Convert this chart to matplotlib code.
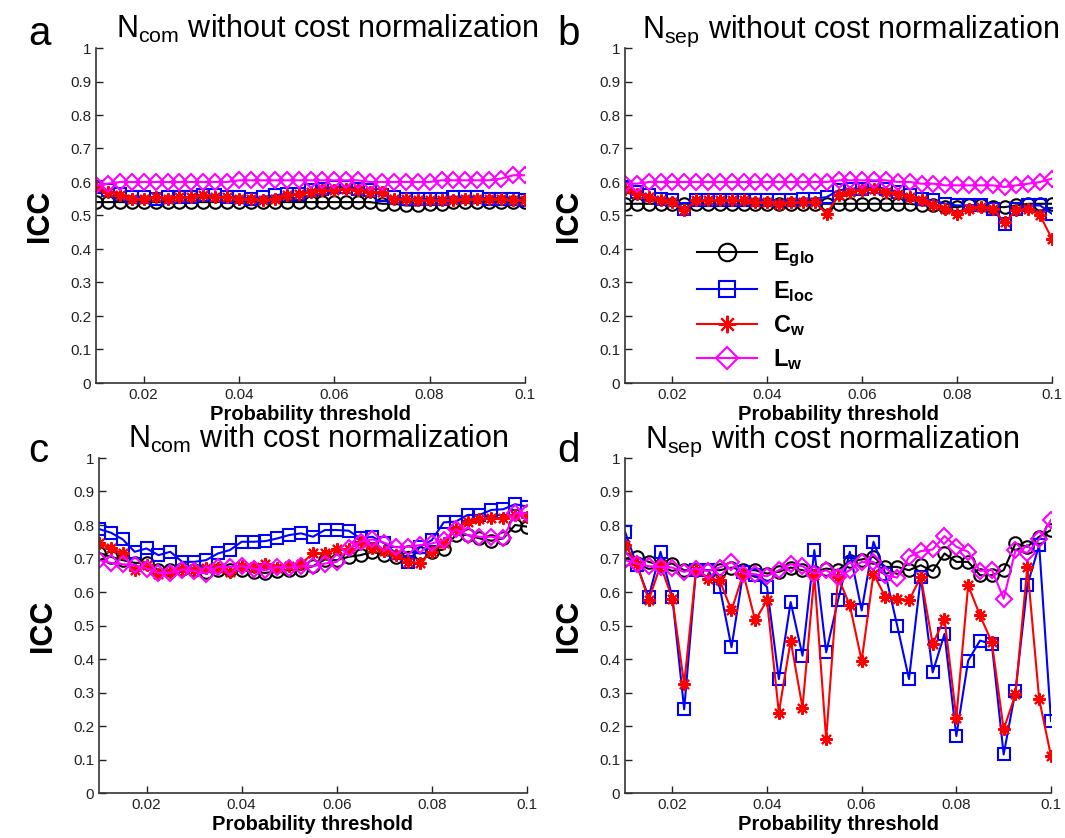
import numpy as np
import matplotlib
matplotlib.use("Agg")
from matplotlib import pyplot as plt

plt.rcParams['font.family'] = ['Liberation Sans', 'DejaVu Sans']
plt.rcParams['mathtext.fontset'] = 'custom'
plt.rcParams['mathtext.rm'] = 'Liberation Sans'
plt.rcParams['mathtext.bf'] = 'Liberation Sans:bold'

# probability thresholds 0.01 .. 0.1, step 0.0025 (37 points)
thresholds = [0.01 + 0.0025 * i for i in range(37)]

# a: N_com without cost normalization
a_eglo = [0.54, 0.54, 0.54, 0.54, 0.54, 0.54, 0.54, 0.54, 0.54, 0.54, 0.54, 0.54, 0.54,
          0.54, 0.54, 0.54, 0.54, 0.54, 0.54, 0.54, 0.54, 0.54, 0.54, 0.54, 0.535, 0.535,
          0.53, 0.53, 0.535, 0.535, 0.54, 0.54, 0.54, 0.54, 0.54, 0.54, 0.54]
a_eloc = [0.585, 0.575, 0.565, 0.555, 0.555, 0.55, 0.555, 0.555, 0.555, 0.56, 0.56, 0.555,
          0.555, 0.55, 0.555, 0.56, 0.565, 0.565, 0.575, 0.58, 0.585, 0.585, 0.58, 0.575,
          0.56, 0.555, 0.55, 0.55, 0.55, 0.55, 0.555, 0.555, 0.555, 0.55, 0.55, 0.55, 0.545]
a_cw = [0.585, 0.57, 0.56, 0.55, 0.55, 0.555, 0.55, 0.555, 0.555, 0.56, 0.555, 0.555, 0.55,
        0.55, 0.545, 0.55, 0.56, 0.565, 0.57, 0.575, 0.575, 0.58, 0.575, 0.57, 0.57, 0.55,
        0.55, 0.545, 0.545, 0.545, 0.545, 0.55, 0.55, 0.55, 0.55, 0.545, 0.545]
a_lw = [0.59, 0.595, 0.6, 0.6, 0.6, 0.6, 0.6, 0.6, 0.6, 0.6, 0.6, 0.6, 0.605, 0.605, 0.605,
        0.605, 0.605, 0.605, 0.605, 0.605, 0.605, 0.605, 0.605, 0.6, 0.6, 0.6, 0.6, 0.6,
        0.6, 0.605, 0.605, 0.605, 0.605, 0.605, 0.61, 0.62, 0.62]

# b: N_sep without cost normalization
b_eglo = [0.535, 0.535, 0.535, 0.535, 0.535, 0.535, 0.535, 0.535, 0.535, 0.535, 0.535,
          0.535, 0.535, 0.535, 0.535, 0.535, 0.535, 0.535, 0.535, 0.535, 0.535, 0.535,
          0.535, 0.535, 0.535, 0.53, 0.53, 0.525, 0.525, 0.53, 0.53, 0.525, 0.525, 0.53,
          0.535, 0.535, 0.535]
b_eloc = [0.585, 0.57, 0.56, 0.55, 0.545, 0.52, 0.545, 0.545, 0.545, 0.545, 0.545, 0.545,
          0.545, 0.545, 0.545, 0.55, 0.55, 0.555, 0.575, 0.58, 0.58, 0.585, 0.58, 0.57,
          0.56, 0.55, 0.545, 0.535, 0.53, 0.53, 0.53, 0.52, 0.475, 0.52, 0.53, 0.53, 0.505]
b_cw = [0.58, 0.565, 0.555, 0.545, 0.54, 0.515, 0.545, 0.545, 0.545, 0.545, 0.545, 0.54,
        0.54, 0.535, 0.54, 0.54, 0.54, 0.505, 0.56, 0.57, 0.575, 0.58, 0.57, 0.565, 0.555,
        0.545, 0.53, 0.52, 0.505, 0.52, 0.525, 0.52, 0.48, 0.515, 0.52, 0.5, 0.43]
b_lw = [0.595, 0.595, 0.6, 0.6, 0.6, 0.6, 0.6, 0.6, 0.6, 0.6, 0.6, 0.6, 0.6, 0.6, 0.6, 0.6,
        0.6, 0.6, 0.605, 0.605, 0.605, 0.605, 0.605, 0.6, 0.6, 0.595, 0.595, 0.59, 0.59,
        0.59, 0.59, 0.59, 0.585, 0.59, 0.595, 0.6, 0.61]

# c: N_com with cost normalization
c_eglo = [0.717, 0.705, 0.695, 0.687, 0.687, 0.665, 0.665, 0.67, 0.665, 0.66, 0.665, 0.665,
          0.665, 0.66, 0.657, 0.662, 0.665, 0.667, 0.677, 0.697, 0.695, 0.705, 0.71, 0.72,
          0.71, 0.705, 0.72, 0.715, 0.72, 0.727, 0.77, 0.77, 0.76, 0.753, 0.76, 0.8, 0.795]
c_eloc = [0.788, 0.777, 0.757, 0.72, 0.73, 0.71, 0.72, 0.69, 0.69, 0.695, 0.715, 0.725,
          0.75, 0.75, 0.752, 0.76, 0.77, 0.775, 0.765, 0.785, 0.785, 0.783, 0.76, 0.765,
          0.745, 0.715, 0.69, 0.735, 0.755, 0.808, 0.81, 0.83, 0.83, 0.845, 0.847, 0.862,
          0.855]
c_cw = [0.747, 0.73, 0.715, 0.665, 0.68, 0.655, 0.66, 0.67, 0.667, 0.673, 0.673, 0.66,
        0.677, 0.675, 0.685, 0.673, 0.677, 0.685, 0.715, 0.715, 0.727, 0.727, 0.75, 0.73,
        0.723, 0.71, 0.69, 0.687, 0.72, 0.745, 0.787, 0.81, 0.818, 0.82, 0.82, 0.83, 0.823]
c_lw = [0.695, 0.687, 0.683, 0.68, 0.67, 0.657, 0.657, 0.667, 0.663, 0.655, 0.675, 0.675,
        0.677, 0.67, 0.665, 0.675, 0.673, 0.677, 0.677, 0.685, 0.69, 0.73, 0.75, 0.757,
        0.747, 0.733, 0.735, 0.74, 0.745, 0.755, 0.787, 0.77, 0.765, 0.765, 0.76, 0.835,
        0.835]

# d: N_sep with cost normalization
d_eglo = [0.70, 0.705, 0.69, 0.68, 0.685, 0.665, 0.665, 0.665, 0.665, 0.673, 0.665, 0.665,
          0.655, 0.66, 0.673, 0.665, 0.66, 0.67, 0.665, 0.693, 0.697, 0.705, 0.675, 0.675,
          0.665, 0.68, 0.662, 0.715, 0.69, 0.69, 0.65, 0.65, 0.665, 0.745, 0.735, 0.765,
          0.785]
d_eloc = [0.78, 0.68, 0.585, 0.72, 0.585, 0.25, 0.665, 0.665, 0.615, 0.435, 0.66, 0.65,
          0.615, 0.34, 0.57, 0.41, 0.725, 0.42, 0.575, 0.72, 0.545, 0.75, 0.655, 0.50, 0.34,
          0.645, 0.36, 0.475, 0.17, 0.395, 0.455, 0.445, 0.115, 0.305, 0.62, 0.74, 0.215]
d_cw = [0.74, 0.685, 0.575, 0.68, 0.58, 0.325, 0.665, 0.64, 0.635, 0.545, 0.655, 0.515,
        0.575, 0.24, 0.455, 0.255, 0.65, 0.16, 0.645, 0.56, 0.395, 0.655, 0.585, 0.58, 0.575,
        0.645, 0.445, 0.52, 0.225, 0.62, 0.53, 0.45, 0.19, 0.295, 0.675, 0.28, 0.11]
d_lw = [0.695, 0.685, 0.677, 0.675, 0.673, 0.66, 0.67, 0.663, 0.673, 0.69, 0.655, 0.653,
        0.647, 0.665, 0.683, 0.677, 0.655, 0.665, 0.645, 0.665, 0.69, 0.69, 0.65, 0.643,
        0.705, 0.722, 0.727, 0.767, 0.735, 0.72, 0.663, 0.667, 0.58, 0.725, 0.717, 0.757,
        0.815]

labels = [r'$\mathbf{E_{glo}}$', r'$\mathbf{E_{loc}}$', r'$\mathbf{C_{w}}$', r'$\mathbf{L_{w}}$']
colors = ['black', '#0000ff', '#ff0000', '#ff00ff']
markers = ['o', 's', (8, 2, 0), 'D']
msizes = [9, 8, 9, 8]

titles = [r'$\mathregular{N_{com}}$ without cost normalization',
          r'$\mathregular{N_{sep}}$ without cost normalization',
          r'$\mathregular{N_{com}}$ with cost normalization',
          r'$\mathregular{N_{sep}}$ with cost normalization']
title_x = [0.54, 0.527, 0.512, 0.486]
letters = ['a', 'b', 'c', 'd']
panels = [(a_eglo, a_eloc, a_cw, a_lw), (b_eglo, b_eloc, b_cw, b_lw),
          (c_eglo, c_eloc, c_cw, c_lw), (d_eglo, d_eloc, d_cw, d_lw)]

W, H = 1065, 838
fig = plt.figure(figsize=(W / 100, H / 100), dpi=100)

# axes boxes in pixels: left, top, right, bottom
boxes = [(96, 48, 525, 383), (625, 48, 1052, 383),
         (99, 458, 527, 793), (625, 458, 1051, 793)]
letter_pos = [(28, 45), (557, 45), (28, 462), (557, 462)]

for k, (series, box) in enumerate(zip(panels, boxes)):
    l, t, r, b = box
    ax = fig.add_axes([l / W, 1 - b / H, (r - l) / W, (b - t) / H])
    for vals, lab, c, m, ms in zip(series, labels, colors, markers, msizes):
        ax.plot(thresholds, vals, color=c, marker=m, markersize=ms, markerfacecolor='none',
                markeredgecolor=c, markeredgewidth=1.5, linewidth=1.5, label=lab)
    ax.set_xlim(0.01, 0.1)
    ax.set_ylim(0, 1)
    ax.set_xticks([0.02, 0.04, 0.06, 0.08, 0.1])
    ax.set_xticklabels(['0.02', '0.04', '0.06', '0.08', '0.1'])
    ax.set_yticks(np.arange(0, 1.01, 0.1))
    ax.set_yticklabels(['0', '0.1', '0.2', '0.3', '0.4', '0.5', '0.6', '0.7', '0.8', '0.9', '1'])
    ax.tick_params(direction='in', length=5, width=1, labelsize=11, colors='#222222')
    ax.spines['top'].set_visible(False)
    ax.spines['right'].set_visible(False)
    for s in ['left', 'bottom']:
        ax.spines[s].set_color('#333333')
        ax.spines[s].set_linewidth(1.2)
    ax.set_xlabel('Probability threshold', fontsize=14.5, fontweight='bold', labelpad=2)
    ax.set_ylabel('ICC', fontsize=22, fontweight='bold', labelpad=11)
    ax.text(title_x[k], 1.03, titles[k], transform=ax.transAxes, ha='center',
            va='baseline', fontsize=22)
    fig.text(letter_pos[k][0] / W, 1 - letter_pos[k][1] / H, letters[k], fontsize=29,
             ha='left', va='baseline')
    if k == 1:
        ax.legend(loc='upper left', bbox_to_anchor=(0.12, 0.485), frameon=False,
                  fontsize=17, handlelength=2.5, labelspacing=0.4, markerscale=1.4,
                  handletextpad=0.7)

fig.savefig('out.png', dpi=100)
